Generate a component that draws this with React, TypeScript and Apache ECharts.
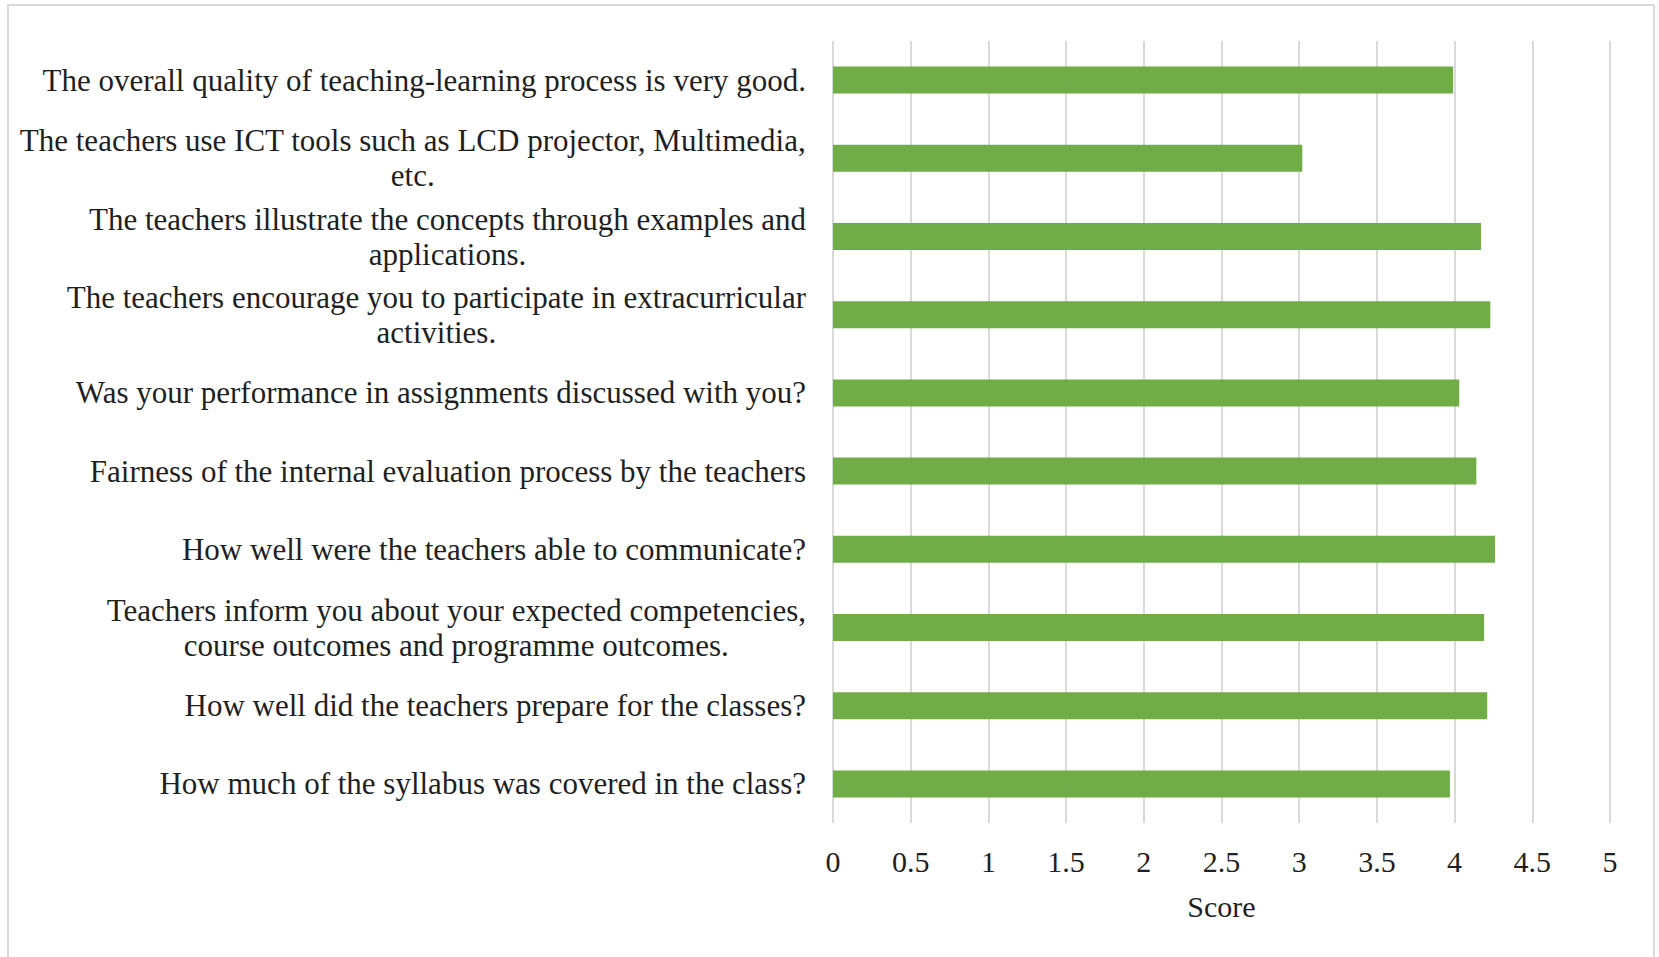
import React, { useEffect, useRef } from "react";
import * as echarts from "echarts";

const categories: string[] = [
  "The overall quality of teaching-learning process is very good.",
  "The teachers use ICT tools such as LCD projector, Multimedia,\netc.",
  "The teachers illustrate the concepts through examples and\napplications.",
  "The teachers encourage you to participate in extracurricular\nactivities.",
  "Was your performance in assignments discussed with you?",
  "Fairness of the internal evaluation process by the teachers",
  "How well were the teachers able to communicate?",
  "Teachers inform you about your expected competencies,\ncourse outcomes and programme outcomes.",
  "How well did the teachers prepare for the classes?",
  "How much of the syllabus was covered in the class?",
];

const scores: number[] = [3.99, 3.02, 4.17, 4.23, 4.03, 4.14, 4.26, 4.19, 4.21, 3.97];

const axisName = "Score";

const FONT = "'Liberation Serif', 'DejaVu Serif', serif";
const TEXT_COLOR = "#1f1f1f";

export default function App() {
  const ref = useRef<HTMLDivElement>(null);

  useEffect(() => {
    if (!ref.current) return;
    const chart = echarts.init(ref.current, undefined, { renderer: "svg" });
    chart.setOption({
      animation: false,
      backgroundColor: "#ffffff",
      graphic: [
        {
          type: "rect",
          shape: { x: 8, y: 5, width: 1646, height: 962 },
          style: { fill: "none", stroke: "#d9d9d9", lineWidth: 2 },
          z: -1,
        },
      ],
      grid: { left: 833, right: 49, top: 41, bottom: 134, containLabel: false },
      xAxis: {
        type: "value",
        min: 0,
        max: 5,
        interval: 0.5,
        name: axisName,
        nameLocation: "middle",
        nameGap: 68,
        nameTextStyle: { fontFamily: FONT, fontSize: 30, color: TEXT_COLOR },
        axisLine: { show: false },
        axisTick: { show: false },
        axisLabel: {
          margin: 23,
          fontFamily: FONT,
          fontSize: 30,
          color: TEXT_COLOR,
        },
        splitLine: { show: true, lineStyle: { color: "#d9d9d9", width: 2 } },
      },
      yAxis: {
        type: "category",
        inverse: true,
        data: categories,
        axisLine: { show: false },
        axisTick: { show: false },
        splitLine: { show: false },
        axisLabel: {
          margin: 27,
          fontFamily: FONT,
          fontSize: 31,
          color: TEXT_COLOR,
          lineHeight: 35,
          formatter: (v: string) =>
            v
              .split("\n")
              .map((l) => "{c|" + l + "}")
              .join("\n"),
          rich: {
            c: {
              align: "center",
              fontFamily: FONT,
              fontSize: 31,
              color: TEXT_COLOR,
              lineHeight: 35,
            },
          },
        },
      },
      series: [
        {
          type: "bar",
          data: scores,
          barWidth: 27,
          itemStyle: { color: "#70ad47" },
        },
      ],
    });
    return () => chart.dispose();
  }, []);

  return (
    <div
      ref={ref}
      style={{ position: "absolute", left: 0, top: 0, width: 1659, height: 957 }}
    />
  );
}
